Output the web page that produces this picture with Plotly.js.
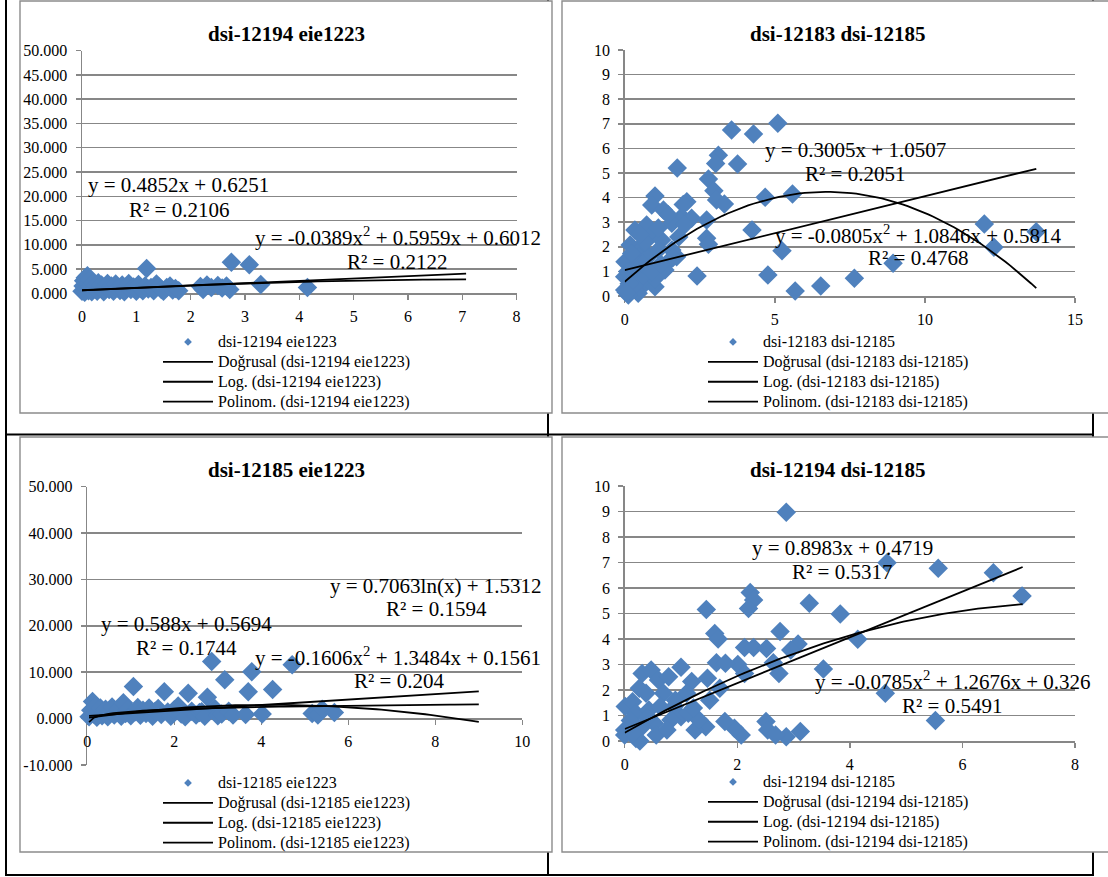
<!DOCTYPE html>
<html><head><meta charset="utf-8">
<script src="https://cdn.plot.ly/plotly-3.0.1.min.js"></script>
<style>html,body{margin:0;padding:0;background:#fff}#chart{width:1108px;height:877px}</style>
</head><body><div id="chart"></div>
<script>
// ---------- DATA ----------
const titles = ['dsi-12194 eie1223', 'dsi-12183 dsi-12185', 'dsi-12185 eie1223', 'dsi-12194 dsi-12185'];
const fitPrefixes = ['Doğrusal', 'Log.', 'Polinom.'];

// scatter points [x, y]
const pts1 = [[0,0.4],[0.02,1.5],[0.03,2.6],[0.05,0.2],[0.06,3.2],[0.08,1.0],[0.1,3.6],[0.1,2.0],[0.12,0.5],[0.14,2.8],
  [0.15,1.4],[0.18,0.3],[0.2,2.1],[0.22,0.9],[0.25,1.6],[0.28,0.4],[0.3,2.2],[0.33,1.0],[0.36,1.7],[0.4,0.3],
  [0.43,1.3],[0.47,2.0],[0.5,0.8],[0.54,1.5],[0.58,0.4],[0.62,1.9],[0.66,1.1],[0.7,0.6],[0.74,1.7],[0.78,0.3],
  [0.82,1.4],[0.86,2.0],[0.9,0.8],[0.95,1.3],[1.0,0.4],[1.04,1.8],[1.08,1.0],[1.12,0.5],[1.16,1.5],[1.19,5.1],
  [1.22,0.9],[1.27,1.2],[1.32,0.5],[1.37,1.9],[1.41,1.4],[1.46,0.8],[1.5,0.4],[1.56,1.2],[1.62,1.5],[1.67,0.7],
  [1.72,1.0],[1.78,0.5],[2.18,1.4],[2.23,0.8],[2.3,1.7],[2.38,1.2],[2.5,1.6],[2.58,1.1],[2.66,1.5],[2.72,0.8],
  [2.75,6.4],[3.08,5.9],[3.29,1.8],[4.15,1.2]];
const pts2 = [[3.56,6.75],[4.29,6.59],[5.1,7.02],[3.12,5.72],[3.03,5.39],[3.76,5.37],[1.75,5.2],[2.79,4.76],[2.97,4.28],[4.68,4.01],
  [5.59,4.15],[3.06,3.9],[3.32,3.74],[2.73,3.09],[4.24,2.68],[2.73,2.35],[2.79,2.1],[5.24,1.84],[2.41,0.81],[4.77,0.85],
  [5.68,0.2],[6.53,0.41],[7.65,0.72],[8.94,1.33],[11.98,2.93],[12.3,1.98],[13.71,2.61],
  [1.01,4.07],[0.9,3.7],[1.29,3.5],[2.07,3.83],[1.9,3.22],[2.23,3.16],[1.57,2.96],[0.73,2.89],[0.34,2.68],[0.9,2.48],
  [1.23,2.28],[0.18,2.07],[0.57,1.94],[1.57,1.87],[1.73,1.6],[1.4,1.33],[0.01,1.39],[0.34,1.19],[0.79,1.06],[0,0.78],
  [0.23,0.65],[0.68,0.52],[1.01,0.38],[0,0.24],[0.45,0.11],[0.12,0.04],[0.45,1.6],[0.79,1.6],[1.12,1.87],[0.68,2.2],
  [0.23,1.73],[1.01,0.71],[1.34,1.06],[0.57,0.78],[1.12,2.76],[1.95,3.72],[1.45,3.3],[0.5,2.5],[0.1,1.0],[0.3,0.4],
  [0.15,0.5],[0.05,0.15],[0.6,1.3],[0.9,1.0],[1.2,1.3],[1.6,1.55],[1.8,2.4],[2.0,2.9]];
const pts3 = [[0.04,0.4],[0.08,1.8],[0.12,3.7],[0.15,1.0],[0.18,2.6],[0.22,0.3],[0.26,1.5],[0.3,2.3],[0.34,0.6],[0.38,1.2],
  [0.42,2.0],[0.47,0.4],[0.52,1.6],[0.57,2.5],[0.62,0.8],[0.67,1.3],[0.72,2.1],[0.78,0.5],[0.83,3.4],[0.88,1.1],
  [0.94,2.0],[1.0,0.6],[1.06,6.9],[1.1,1.5],[1.16,2.4],[1.22,0.7],[1.28,1.8],[1.35,1.1],[1.42,2.3],[1.5,0.5],
  [1.56,1.6],[1.63,2.2],[1.7,0.9],[1.77,5.8],[1.85,1.4],[1.92,0.5],[2.0,1.9],[2.09,2.7],[2.16,1.0],[2.25,0.4],
  [2.32,5.45],[2.4,1.6],[2.5,0.8],[2.58,1.3],[2.63,1.5],[2.7,0.5],[2.76,4.6],[2.86,12.3],[2.93,2.2],[3.0,0.6],
  [3.09,1.0],[3.16,8.4],[3.25,1.6],[3.35,0.8],[3.64,0.9],[3.7,5.8],[3.78,10.1],[4.02,1.0],[4.26,6.3],[4.71,11.6],
  [5.17,1.1],[5.3,0.8],[5.4,2.0],[5.68,1.3]];
const pts4 = [[2.87,8.97],[4.66,6.99],[5.57,6.77],[6.55,6.6],[7.06,5.69],[2.23,5.82],[2.29,5.53],[2.2,5.2],[1.45,5.16],[3.28,5.4],
  [3.83,4.98],[4.14,3.99],[2.76,4.29],[1.6,4.22],[1.66,4.0],[2.13,3.67],[2.29,3.67],[2.52,3.63],[3.08,3.8],[2.95,3.57],
  [3.53,2.82],[2.74,2.65],[2.64,3.07],[2.01,3.0],[2.13,2.65],[1.63,3.07],[1.79,3.05],[4.63,1.87],[5.52,0.8],[2.87,0.17],
  [3.12,0.37],[2.51,0.76],[2.54,0.43],[2.68,0.24],[2.07,0.24],[1.95,0.5],[1.78,0.76],[1.44,0.56],[1.25,0.43],[1.0,2.89],
  [1.19,2.33],[1.47,2.46],[1.51,1.6],[1.69,2.07],[0.31,2.65],[0.47,2.78],[0.6,2.39],[0.78,2.52],[0.26,2.07],[0.38,1.87],
  [0.69,1.87],[0.01,1.35],[0.14,1.54],[0.2,1.09],[0.43,1.22],[0.63,1.35],[0.88,1.35],[1.0,0.95],[0.82,0.82],[0.53,0.69],
  [0.31,0.56],[0,0.43],[0,0.24],[0.2,0.1],[0.27,0],[0.56,0.24],[0.75,0.43],[1.13,1.09],[1.32,0.82],[1.22,1.29],
  [1.1,1.87],[0.1,0.8],[0.4,0.9],[0.9,1.6],[0.15,0.3]];

// trendline coefficients (as printed on the charts)
const linCoef = [[0.4852,0.6251],[0.3005,1.0507],[0.588,0.5694],[0.8983,0.4719]];
const polyCoef = [[-0.0389,0.5959,0.6012],[-0.0805,1.0846,0.5814],[-0.1606,1.3484,0.1561],[-0.0785,1.2676,0.326]];
const logCoef = [null, null, [0.7063,1.5312], null];
const fitRange = [[0,7.07],[0,13.71],[0.04,9.0],[0,7.07]];

// tick labels
const yTicks13 = [0,5,10,15,20,25,30,35,40,45,50];
const yText1 = ['0.000','5.000','10.000','15.000','20.000','25.000','30.000','35.000','40.000','45.000','50.000'];
const yTicks3 = [-10,0,10,20,30,40,50];
const yText3 = ['-10.000','0.000','10.000','20.000','30.000','40.000','50.000'];
const yTicks24 = [0,1,2,3,4,5,6,7,8,9,10];
const yText24 = ['0','1','2','3','4','5','6','7','8','9','10'];
const xTicks1 = [0,1,2,3,4,5,6,7,8];
const xTicks2 = [0,5,10,15];
const xTicks3 = [0,2,4,6,8,10];
const xTicks4 = [0,2,4,6,8];

// equation labels
const eqTexts = [
  ['y = 0.4852x + 0.6251','R² = 0.2106','y = -0.0389x<sup>2</sup> + 0.5959x + 0.6012','R² = 0.2122'],
  ['y = 0.3005x + 1.0507','R² = 0.2051','y = -0.0805x<sup>2</sup> + 1.0846x + 0.5814','R² = 0.4768'],
  ['y = 0.7063ln(x) + 1.5312','R² = 0.1594','y = 0.588x + 0.5694','R² = 0.1744','y = -0.1606x<sup>2</sup> + 1.3484x + 0.1561','R² = 0.204'],
  ['y = 0.8983x + 0.4719','R² = 0.5317','y = -0.0785x<sup>2</sup> + 1.2676x + 0.326','R² = 0.5491']
];

// ---------- STYLE / LAYOUT ----------
const W = 1108, H = 877;
const FONT = 'Liberation Serif, Times New Roman, serif';
const BLUE = '#4F81BD';
const GRID = '#878787';
const px = v => v / W;
const py = v => 1 - v / H;

const geo = [
  {xd:[px(82),px(516.6)], yd:[py(293.3),py(50.7)], xr:[0,8], yr:[0,50], xt:xTicks1, yt:yTicks13, ytx:yText1, leg:[158,327], title:[286,34]},
  {xd:[px(624.7),px(1075)], yd:[py(296),py(50)], xr:[0,15], yr:[0,10], xt:xTicks2, yt:yTicks24, ytx:yText24, leg:[703,327], title:[838,34]},
  {xd:[px(87.3),px(522.3)], yd:[py(765),py(486.7)], xr:[0,10], yr:[-10,50], xt:xTicks3, yt:yTicks3, ytx:yText3, leg:[158,768], title:[286,469.5], xpos:py(718.6)},
  {xd:[px(624.7),px(1075)], yd:[py(741),py(486)], xr:[0,8], yr:[0,10], xt:xTicks4, yt:yTicks24, ytx:yText24, leg:[703,767], title:[838,469.5]}
];
const eqPos = [
  [[178,185],[178.6,210],[397.5,236.7],[397,261.7]],
  [[855.5,150],[855,174],[918,234.3],[918,258.3]],
  [[436.4,585.7],[436.4,609.3],[186,624],[186,648.3],[398,656.7],[398.6,680.7]],
  [[842.6,548.3],[842,572.3],[953.3,680],[952.4,705.7]]
];

const allPts = [pts1, pts2, pts3, pts4];
const span = t => '<span style="font-size:16px">' + t + '</span>';

function sampleX(r) { const n = 80, out = []; for (let i = 0; i <= n; i++) out.push(r[0] + (r[1] - r[0]) * i / n); return out; }

const traces = [];
const layout = {
  width: W, height: H, margin: {l:0, r:0, t:0, b:0}, paper_bgcolor: '#fff', plot_bgcolor: 'rgba(0,0,0,0)',
  font: {family: FONT, color: '#000'}, showlegend: true, annotations: [], shapes: []
};

// table borders (Word document) and chart frames
const blackLine = (x0,y0,x1,y1) => ({type:'line', xref:'paper', yref:'paper', x0:px(x0), y0:py(y0), x1:px(x1), y1:py(y1), line:{color:'#000', width:2}, layer:'below'});
layout.shapes.push(blackLine(6,0,6,876), blackLine(6,434.5,1093,434.5), blackLine(6,875,1093,875),
  blackLine(548,0,548,876), blackLine(1093,0,1093,876));
const frame = (x0,y0,x1,y1) => ({type:'rect', xref:'paper', yref:'paper', x0:px(x0), y0:py(y1), x1:px(x1), y1:py(y0), line:{color:'#8c8c8c', width:1.4}, fillcolor:'#fff', layer:'below'});
layout.shapes.push(frame(20,1,552,413), frame(562,1,1110,413), frame(20,437,552,852), frame(562,437,1110,852));

geo.forEach((g, i) => {
  const n = i + 1;
  const xa = n === 1 ? 'x' : 'x' + n, ya = n === 1 ? 'y' : 'y' + n;
  const lg = n === 1 ? 'legend' : 'legend' + n;
  const pts = allPts[i];
  const name = titles[i];

  traces.push({type:'scatter', mode:'markers', x: pts.map(p => p[0]), y: pts.map(p => p[1]), xaxis: xa, yaxis: ya,
    showlegend:false, cliponaxis:false, hoverinfo:'skip',
    marker:{symbol:'diamond', size:15, color:BLUE, line:{width:0}}});
  traces.push({type:'scatter', mode:'markers', x:[null], y:[null], xaxis: xa, yaxis: ya, legend: lg,
    name: span(name), marker:{symbol:'diamond', size:6, color:BLUE}});

  const xs = sampleX(fitRange[i]);
  const lc = linCoef[i], pc = polyCoef[i], gc = logCoef[i];
  const lineStyle = {color:'#000', width:1.8};
  traces.push({type:'scatter', mode:'lines', x: xs, y: xs.map(x => lc[0]*x + lc[1]), xaxis: xa, yaxis: ya, legend: lg,
    name: span(fitPrefixes[0] + ' (' + name + ')'), line: lineStyle, cliponaxis:false, hoverinfo:'skip'});
  traces.push({type:'scatter', mode:'lines', x: gc ? xs : [null], y: gc ? xs.map(x => gc[0]*Math.log(x) + gc[1]) : [null],
    xaxis: xa, yaxis: ya, legend: lg, name: span(fitPrefixes[1] + ' (' + name + ')'), line: lineStyle, cliponaxis:false, hoverinfo:'skip'});
  traces.push({type:'scatter', mode:'lines', x: xs, y: xs.map(x => pc[0]*x*x + pc[1]*x + pc[2]), xaxis: xa, yaxis: ya, legend: lg,
    name: span(fitPrefixes[2] + ' (' + name + ')'), line: lineStyle, cliponaxis:false, hoverinfo:'skip'});

  const common = {showline:true, linecolor:GRID, linewidth:1.5, ticks:'outside', ticklen:5, tickcolor:GRID, tickwidth:1.5,
    tickfont:{family:FONT, size:16, color:'#000'}, zeroline:false, fixedrange:true, layer:'below traces', tickmode:'array'};
  const xName = n === 1 ? 'xaxis' : 'xaxis' + n, yName = n === 1 ? 'yaxis' : 'yaxis' + n;
  layout[xName] = Object.assign({}, common, {domain:g.xd, range:g.xr, tickvals:g.xt, ticktext:g.xt.map(String), showgrid:false,
    ticklabelstandoff:3}, g.xpos !== undefined ? {anchor:'free', position:g.xpos} : {anchor:ya});
  layout[yName] = Object.assign({}, common, {domain:g.yd, range:g.yr, tickvals:g.yt, ticktext:g.ytx, showgrid:true,
    gridcolor:GRID, gridwidth:1.5, anchor:xa, ticklabelstandoff:5});

  layout[lg] = {x:px(g.leg[0]), y:py(g.leg[1]), xanchor:'left', yanchor:'top', bgcolor:'rgba(0,0,0,0)', borderwidth:0,
    font:{family:FONT, size:13, color:'#000'}, itemwidth:50, traceorder:'normal', itemclick:false, itemdoubleclick:false};

  layout.annotations.push({xref:'paper', yref:'paper', x:px(g.title[0]), y:py(g.title[1]), xanchor:'center', yanchor:'middle',
    text:'<b>' + name + '</b>', showarrow:false, font:{family:FONT, size:21, color:'#000'}});
  eqTexts[i].forEach((t, k) => {
    layout.annotations.push({xref:'paper', yref:'paper', x:px(eqPos[i][k][0]), y:py(eqPos[i][k][1]), xanchor:'center', yanchor:'middle',
      text:t, showarrow:false, font:{family:FONT, size:21, color:'#000'}});
  });
});

Plotly.newPlot('chart', traces, layout, {displayModeBar:false, staticPlot:true});
</script>
</body></html>
